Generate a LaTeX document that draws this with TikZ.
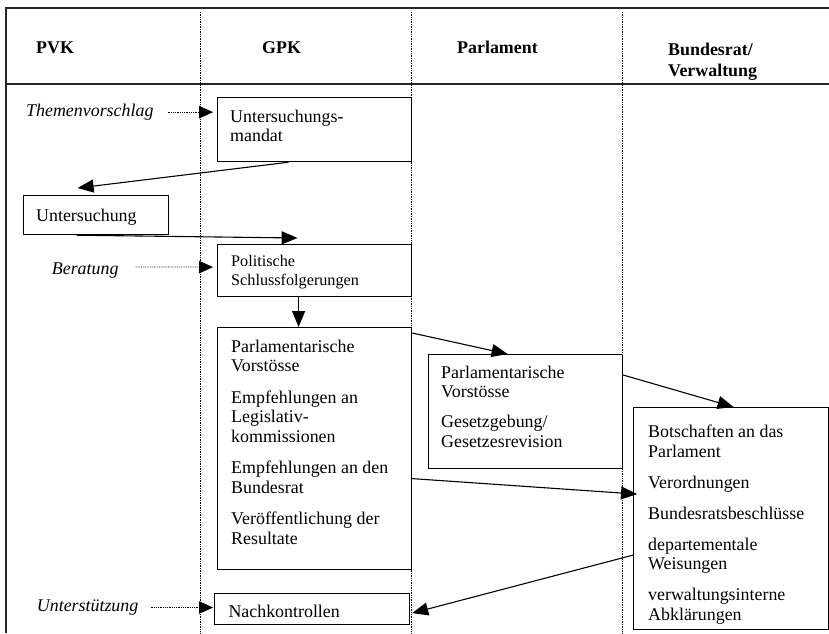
\documentclass[tikz,border=0pt]{standalone}
\usepackage{fontspec}
\setmainfont{Liberation Serif}
\usetikzlibrary{arrows.meta,positioning}

\begin{document}
\begin{tikzpicture}[x=1pt,y=-1pt,
    box/.style={draw, line width=1.2pt, anchor=north west, inner sep=0pt},
    txt/.style={anchor=north west, align=left, inner sep=0pt, font=\fontsize{17.9}{19.5}\selectfont},
    lbl/.style={anchor=base west, inner sep=0pt, font=\fontsize{17.9}{19.5}\selectfont\itshape},
    hd/.style={anchor=base west, align=left, inner sep=0pt, font=\fontsize{17.9}{21}\selectfont\bfseries},
    arr/.style={-{Triangle[length=16pt,width=13pt]}, line width=1.1pt},
    darr/.style={densely dotted, line width=0.8pt, -{Triangle[length=14pt,width=12.5pt]}}]
      \useasboundingbox (0,0) rectangle (829,633);
      \draw[line width=1.5pt, black!85] (829,8) -- (6,8) -- (6,633);
      \draw[line width=1.5pt, black!85] (6,84) -- (829,84);
      \foreach \x in {200.5,411,622}
        \draw[densely dotted, line width=0.7pt] (\x,12) -- (\x,633);

      \node[hd] (pvk) at (36,53) {PVK};
      \node[hd] (gpk-h) at (262,53) {GPK};
      \node[hd] (parl-h) at (457,53) {Parlament};
      \node[hd, anchor=north west] (br-h) at (668,42.9) {Bundesrat/\\Verwaltung};

      \node[box, minimum width=194pt, minimum height=64pt] (mandat) at (217,97) {};
      \node[box, minimum width=145pt, minimum height=39.5pt] (unt) at (22.5,194.5) {};
      \node[box, minimum width=194pt, minimum height=52pt] (pol) at (217,244) {};
      \node[box, minimum width=194pt, minimum height=242pt] (gpk) at (217,327) {};
      \node[box, minimum width=194pt, minimum height=114pt] (parl) at (428,354) {};
      \node[box, minimum width=195pt, minimum height=222pt] (br) at (633,407) {};
      \node[box, minimum width=195pt, minimum height=31pt] (nach) at (214,593) {};

      \node[txt] (mandat-t) at (230,109.8) {Untersuchungs-\\mandat};
      \node[txt] (unt-t) at (36,208.8) {Untersuchung};
      \node[txt, font=\fontsize{16.2}{19}\selectfont] (pol-t) at (231,255) {Politische\\Schlussfolgerungen};
      \node[txt] (gpk-t) at (231,339.8) {Parlamentarische\\Vorstösse\\[12pt]Empfehlungen an\\Legislativ-\\kommissionen\\[12pt]Empfehlungen an den\\Bundesrat\\[12pt]Veröffentlichung der\\Resultate};
      \node[txt] (parl-t) at (441,365.8) {Parlamentarische\\Vorstösse\\[10.5pt]Gesetzgebung/\\Gesetzesrevision};
      \node[txt] (br-t) at (648,424.8) {Botschaften an das\\Parlament\\[11.5pt]Verordnungen\\[11.5pt]Bundesratsbeschlüsse\\[11.5pt]departementale\\Weisungen\\[11.5pt]verwaltungsinterne\\Abklärungen};
      \node[txt] (nach-t) at (228.3,604.5) {Nachkontrollen};

      \node[lbl] (theme) at (26,116.5) {Themenvorschlag};
      \node[lbl] (ber) at (51.7,274.5) {Beratung};
      \node[lbl] (unter) at (36.7,611.5) {Unterstützung};

      \draw[darr] ([xshift=14pt]theme.east) -- ([xshift=-4pt]mandat.west |- theme.east);
      \draw[darr] ([xshift=17pt,yshift=3.5pt]ber.east) -- ([xshift=-4pt,yshift=3.5pt]pol.west);
      \draw[darr] ([xshift=12pt]unter.east) -- ([xshift=-1pt]nach.west |- unter.east);

      \draw[arr] ([xshift=-26pt]mandat.south) -- ([xshift=-18pt,yshift=6.5pt]unt.north);
      \draw[arr] ([xshift=-19pt]unt.south) -- ([xshift=-17pt,yshift=6pt]pol.north);
      \draw[arr] ([xshift=-16pt]pol.south) -- ([xshift=-16pt]gpk.north);
      \draw[arr] ([yshift=-6pt]gpk.north east) -- ([xshift=-18pt]parl.north);
      \draw[arr] ([yshift=-21pt]parl.north east) -- ([xshift=2.5pt]br.north);
      \draw[arr] ([yshift=-30pt]gpk.east) -- ([xshift=4pt,yshift=24.5pt]br.west);
      \draw[arr] ([yshift=-36.5pt]br.west) -- ([xshift=2pt,yshift=-4pt]nach.east);
\end{tikzpicture}
\end{document}
